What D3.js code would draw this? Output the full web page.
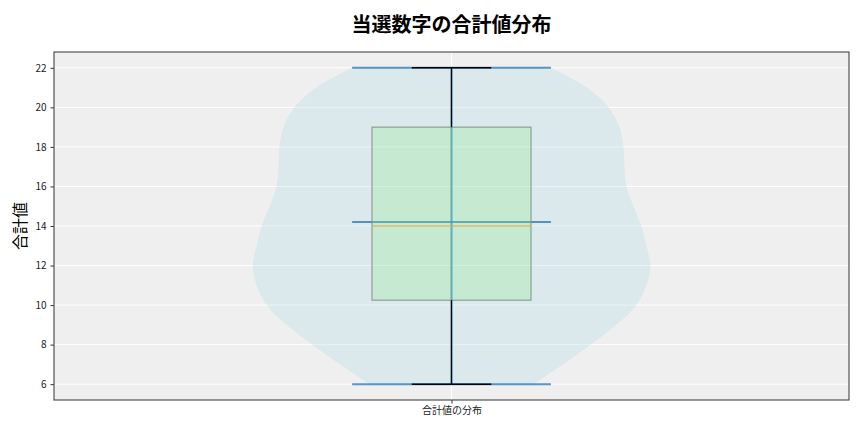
<!DOCTYPE html>
<meta charset="utf-8">
<style>
body { margin: 0; background: #fff; }
text { font-family: "Noto Sans CJK JP", "Noto Sans", sans-serif; }
</style>
<body>
<script src="https://cdn.jsdelivr.net/npm/d3@7"></script>
<script>

// violin: relative half-width (density) read at each value
var violinValues  = [6, 7, 8, 9, 10, 11, 12, 13, 14, 15, 16, 17, 18, 19, 20, 21, 22];
var violinDensity = [0.41, 0.56, 0.70, 0.83, 0.93, 0.98, 1.0, 0.98, 0.955, 0.915, 0.88, 0.87, 0.865, 0.845, 0.79, 0.68, 0.50];

// box stats: min, q1, median, q3, max, plus mean
var boxStats = [6, 10.25, 14, 19, 22];
var meanValue = 14.2;

var yTicks = [6, 8, 10, 12, 14, 16, 18, 20, 22];
var category = "合計値の分布";

var width = 864,
    height = 432,
    margin = {top: 52, right: 15, bottom: 32, left: 54};

var svg = d3.select("body").append("svg")
    .attr("width", width)
    .attr("height", height);

var x = d3.scaleLinear().domain([0.5, 1.5]).range([margin.left, width - margin.right]);
var y = d3.scaleLinear().domain([5.2, 22.8]).range([height - margin.bottom, margin.top]);

// plot background
svg.append("rect")
    .attr("x", margin.left).attr("y", margin.top)
    .attr("width", width - margin.left - margin.right)
    .attr("height", height - margin.top - margin.bottom)
    .attr("fill", "#efefef");

// grid
svg.selectAll(".hgrid").data(yTicks).enter().append("line")
    .attr("x1", margin.left).attr("x2", width - margin.right)
    .attr("y1", d => y(d)).attr("y2", d => y(d))
    .attr("stroke", "#fff").attr("stroke-width", 1);
svg.append("line")
    .attr("x1", x(1)).attr("x2", x(1))
    .attr("y1", margin.top).attr("y2", height - margin.bottom)
    .attr("stroke", "#fff").attr("stroke-width", 1);

// violin body
var vw = 0.25; // half of violin width
var area = d3.area()
    .curve(d3.curveCatmullRom)
    .y(d => y(d[0]))
    .x0(d => x(1 - d[1] * vw))
    .x1(d => x(1 + d[1] * vw));

svg.append("path")
    .datum(d3.zip(violinValues, violinDensity))
    .attr("d", area)
    .attr("fill", "#add8e6")
    .attr("fill-opacity", 0.3);

// violin lines (min, max, mean, bar)
var blue = "#1f77b4";
svg.selectAll(".vline").data([boxStats[0], boxStats[4], meanValue]).enter().append("line")
    .attr("x1", x(1 - vw / 2)).attr("x2", x(1 + vw / 2))
    .attr("y1", d => y(d)).attr("y2", d => y(d))
    .attr("stroke", blue).attr("stroke-opacity", 0.75).attr("stroke-width", 2);
svg.append("line")
    .attr("x1", x(1)).attr("x2", x(1))
    .attr("y1", y(boxStats[0])).attr("y2", y(boxStats[4]))
    .attr("stroke", blue).attr("stroke-opacity", 0.75).attr("stroke-width", 2);

// box
var bw = 0.1;
svg.append("rect")
    .attr("x", x(1 - bw)).attr("width", x(1 + bw) - x(1 - bw))
    .attr("y", y(boxStats[3])).attr("height", y(boxStats[1]) - y(boxStats[3]))
    .attr("fill", "#90ee90").attr("fill-opacity", 0.28)
    .attr("stroke", "#7f9285").attr("stroke-width", 1);

// whiskers and caps
svg.selectAll(".whisk").data([[boxStats[0], boxStats[1]], [boxStats[3], boxStats[4]]]).enter().append("line")
    .attr("x1", x(1)).attr("x2", x(1))
    .attr("y1", d => y(d[0])).attr("y2", d => y(d[1]))
    .attr("stroke", "#000").attr("stroke-width", 1.2);
svg.selectAll(".cap").data([boxStats[0], boxStats[4]]).enter().append("line")
    .attr("x1", x(1 - bw / 2)).attr("x2", x(1 + bw / 2))
    .attr("y1", d => y(d)).attr("y2", d => y(d))
    .attr("stroke", "#000").attr("stroke-width", 1.4);

// median
svg.append("line")
    .attr("x1", x(1 - bw)).attr("x2", x(1 + bw))
    .attr("y1", y(boxStats[2])).attr("y2", y(boxStats[2]))
    .attr("stroke", "#f0a030").attr("stroke-width", 1.2);

// frame
svg.append("rect")
    .attr("x", margin.left).attr("y", margin.top)
    .attr("width", width - margin.left - margin.right)
    .attr("height", height - margin.top - margin.bottom)
    .attr("fill", "none").attr("stroke", "#333").attr("stroke-width", 1);

// axes
var yAxis = svg.append("g")
    .attr("transform", "translate(" + margin.left + ",0)")
    .call(d3.axisLeft(y).tickValues(yTicks).tickSize(3.5).tickPadding(4));
var xAxis = svg.append("g")
    .attr("transform", "translate(0," + (height - margin.bottom) + ")")
    .call(d3.axisBottom(x).tickValues([1]).tickFormat(() => category).tickSize(3.5).tickPadding(3));
[yAxis, xAxis].forEach(function(g) {
  g.select(".domain").remove();
  g.selectAll("line").attr("stroke", "#333");
  g.selectAll("text").attr("fill", "#222").style("font-size", "10px")
    .style("font-family", '"Noto Sans CJK JP", sans-serif');
});

// title and label
svg.append("text")
    .attr("x", x(1)).attr("y", 32)
    .attr("text-anchor", "middle")
    .style("font-size", "20px").style("font-weight", "bold")
    .text("当選数字の合計値分布");

svg.append("text")
    .attr("transform", "translate(26," + y(14) + ") rotate(-90)")
    .attr("text-anchor", "middle")
    .style("font-size", "16px")
    .text("合計値");

</script>
